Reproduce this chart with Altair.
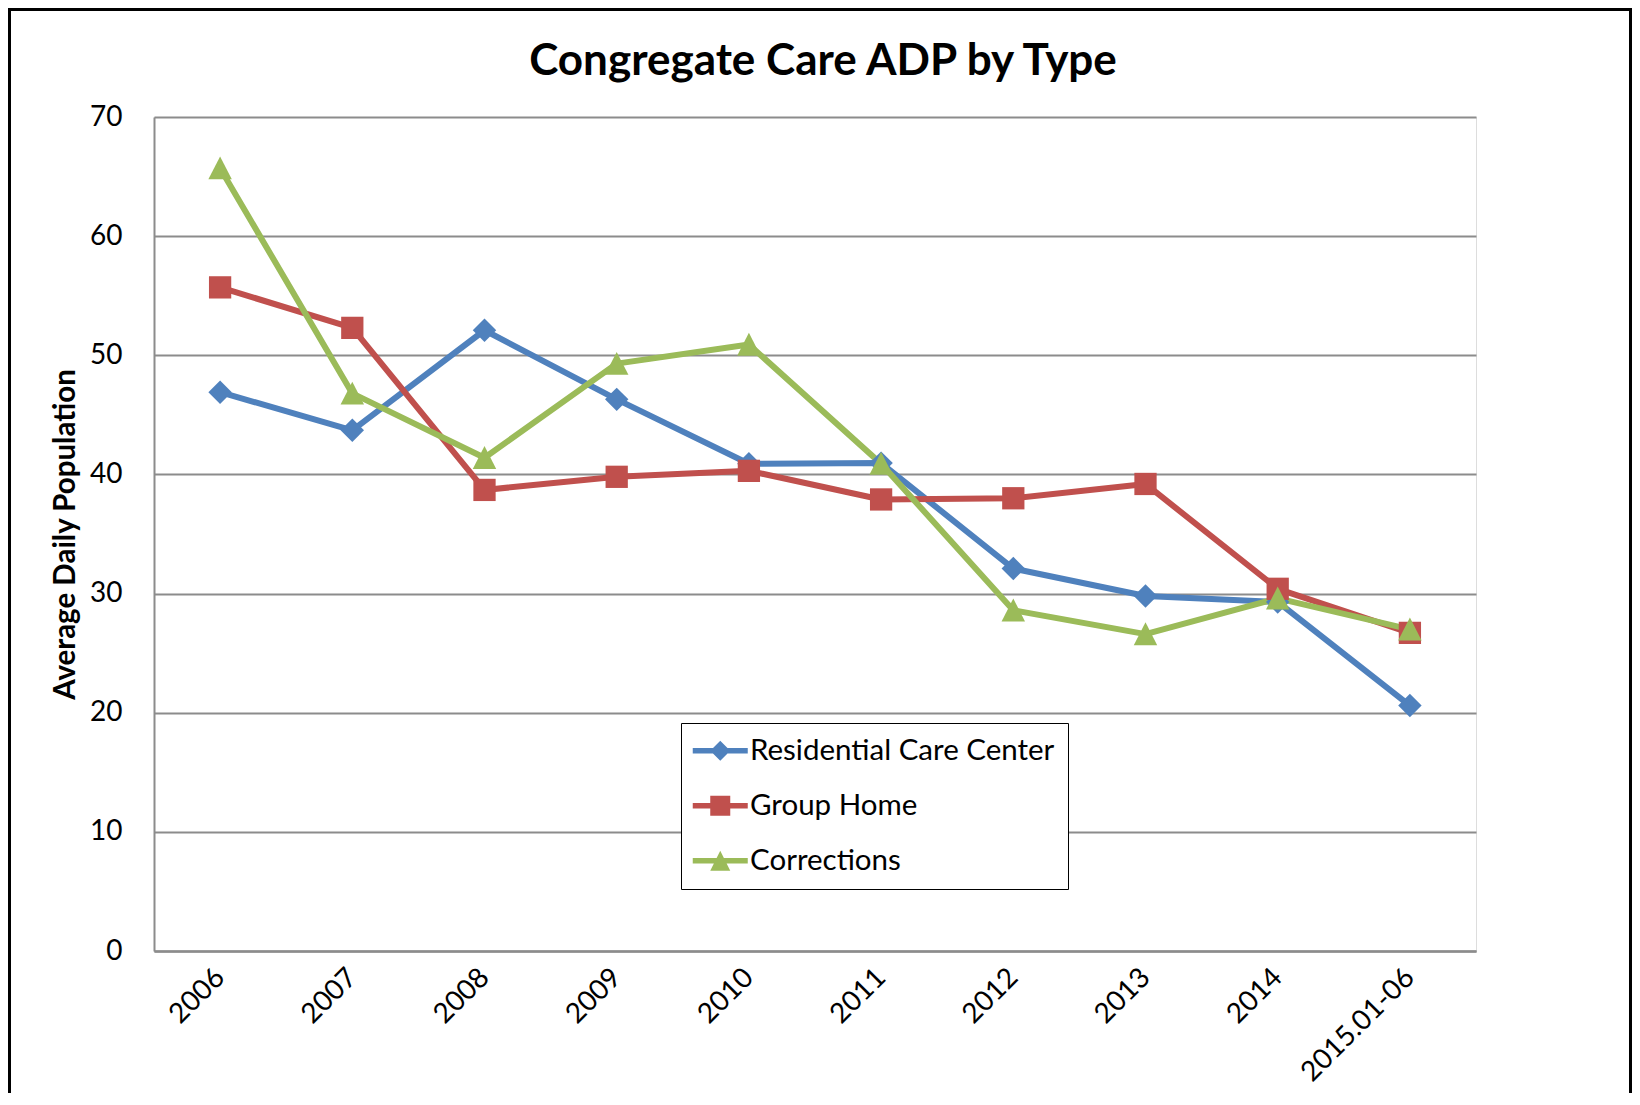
import altair as alt
import pandas as pd

years = ["2006", "2007", "2008", "2009", "2010", "2011", "2012", "2013", "2014", "2015.01-06"]
series = ["Residential Care Center", "Group Home", "Corrections"]
marker_names = ["diamond", "square", "triangle"]
residential = [46.9, 43.7, 52.1, 46.3, 40.9, 40.95, 32.1, 29.8, 29.3, 20.6]
group_home = [55.7, 52.3, 38.7, 39.8, 40.3, 37.9, 38.0, 39.2, 30.4, 26.7]
corrections = [65.7, 46.8, 41.4, 49.3, 50.9, 40.9, 28.6, 26.6, 29.6, 27.0]
colors = ["#4F81BD", "#C0504D", "#9BBB59"]
y_ticks = [0, 10, 20, 30, 40, 50, 60, 70]

FONT = "Lato"

rows = []
for s, m, vals in zip(series, marker_names, [residential, group_home, corrections]):
    for yr, v in zip(years, vals):
        rows.append({"year": yr, "series": s, "marker": m, "adp": v})
df = pd.DataFrame(rows)

# marker shapes (unit box -1..1)
marker_paths = [
    "M0,-1L1,0L0,1L-1,0Z",
    "M-0.95,-0.95H0.95V0.95H-0.95Z",
    "M0,-1L1,0.95H-1Z",
]
# legend symbols: line segment plus marker
bar = "M-2.75,-0.27H2.75V0.27H-2.75Z"
legend_paths = [
    bar + "M0,-1L1,0L0,1L-1,0Z",
    bar + "M-1,-1H1V1H-1Z",
    bar + "M0,-1L1,1H-1Z",
]
shape_expr = (
    f"datum.value === '{series[0]}' ? '{legend_paths[0]}' : "
    f"datum.value === '{series[1]}' ? '{legend_paths[1]}' : '{legend_paths[2]}'"
)

legend = alt.Legend(
    title=None,
    orient="none",
    legendX=527,
    legendY=606,
    direction="vertical",
    symbolSize=400,
    symbolType=alt.ExprRef(shape_expr),
    symbolStrokeWidth=0,
    symbolOpacity=1,
    symbolOffset=11.5,
    labelFont=FONT,
    labelFontSize=29.5,
    labelColor="black",
    labelOffset=15,
    labelLimit=0,
    rowPadding=24,
    padding=13,
    strokeColor="black",
    fillColor="white",
)

x_enc = alt.X(
    "year:O",
    sort=years,
    scale=alt.Scale(type="point", padding=0.5),
    axis=alt.Axis(
        title=None,
        labelAngle=-45,
        labelAlign="right",
        labelBaseline="middle",
        labelPadding=22,
        ticks=False,
        grid=False,
        domainColor="#8c8c8c",
        domainWidth=2.5,
        labelFont=FONT,
        labelFontSize=28,
        labelColor="black",
    ),
)
y_enc = alt.Y(
    "adp:Q",
    scale=alt.Scale(domain=[0, 70], nice=False, zero=True),
    axis=alt.Axis(
        values=y_ticks,
        title="Average Daily Population",
        titleFont=FONT,
        titleFontSize=29.5,
        titleFontWeight="bold",
        titleColor="black",
        titleAngle=270,
        titleX=-89,
        titleY=417,
        titleAlign="center",
        titleBaseline="middle",
        ticks=False,
        labelPadding=32,
        labelFont=FONT,
        labelFontSize=28,
        labelColor="black",
        domainColor="#8c8c8c",
        domainWidth=2,
        gridColor="#8c8c8c",
        gridWidth=1.8,
    ),
)
color_enc = alt.Color("series:N", sort=series, scale=alt.Scale(domain=series, range=colors), legend=legend)

base = alt.Chart(df)

lines = base.mark_line(strokeWidth=6, strokeJoin="round", strokeCap="round").encode(
    x=x_enc,
    y=y_enc,
    color=color_enc,
    detail="series:N",
)
points = base.mark_point(filled=True, opacity=1, size=550, strokeWidth=0).encode(
    x=x_enc,
    y=y_enc,
    color=color_enc,
    shape=alt.Shape("marker:N", scale=alt.Scale(domain=marker_names, range=marker_paths), legend=None),
)

frame_df = pd.DataFrame({"f": [0]})
frame = alt.Chart(frame_df).mark_rect(fill="transparent", stroke="black", strokeWidth=3).encode(
    x=alt.value(-144.5), x2=alt.value(1476.5), y=alt.value(-107.5), y2=alt.value(990)
)

chart = (
    alt.layer(frame, lines, points)
    .properties(
        width=1322,
        height=834,
        padding={"left": 146, "top": 109, "right": 156, "bottom": 142},
        autosize=alt.AutoSizeParams(type="none"),
        title=alt.TitleParams(
            "Congregate Care ADP by Type",
            font=FONT,
            fontSize=44,
            fontWeight="bold",
            color="black",
            anchor="middle",
            frame="group",
            baseline="alphabetic",
            offset=-111,
            dx=8,
        ),
    )
    .configure_view(stroke=None)
    .configure(background="white")
)

chart.save("out.html", embed_options={"renderer": "svg", "actions": False})
